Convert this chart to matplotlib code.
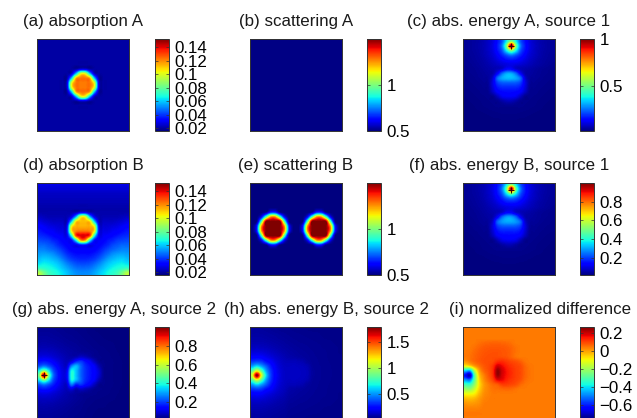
#!/usr/bin/env python
# -*- coding: utf-8 -*-

import numpy as np
import matplotlib
matplotlib.use('Agg')
import matplotlib.pyplot as plt
from matplotlib.cm import ScalarMappable
from matplotlib.colors import Normalize

plt.rcParams['font.family'] = ['Liberation Sans', 'DejaVu Sans']

titles = ['(a) absorption A', '(b) scattering A', '(c) abs. energy A, source 1',
          '(d) absorption B', '(e) scattering B', '(f) abs. energy B, source 1',
          '(g) abs. energy A, source 2', '(h) abs. energy B, source 2', '(i) normalized difference']

# colour limits and colorbar ticks of each panel
limits = [(0.0156, 0.152), (0.5, 1.5), (0.015, 1.0),
          (0.0156, 0.152), (0.5, 1.5), (0.015, 1.0),
          (0.015, 1.01), (0.02, 1.78), (-0.755, 0.263)]
tick_values = [[0.02, 0.04, 0.06, 0.08, 0.1, 0.12, 0.14], [0.5, 1], [0.5, 1],
               [0.02, 0.04, 0.06, 0.08, 0.1, 0.12, 0.14], [0.5, 1], [0.2, 0.4, 0.6, 0.8],
               [0.2, 0.4, 0.6, 0.8], [0.5, 1, 1.5], [-0.6, -0.4, -0.2, 0, 0.2]]

# source marks, grid column and row, per panel index
source_marks = {2: (10, 1), 5: (10, 1), 6: (1, 10)}

absorption_a = [
    [20]*20, [20]*20, [20]*20, [20]*20, [20]*20, [20]*20,
    [20]*9 + [26, 26] + [20]*9,
    [20]*7 + [24, 58, 98, 98, 58, 24] + [20]*7,
    [20]*7 + [58, 114, 122, 122, 114, 58] + [20]*7,
    [20]*6 + [26, 98, 122, 122, 122, 122, 98, 26] + [20]*6,
    [20]*6 + [26, 98, 122, 122, 122, 122, 98, 26] + [20]*6,
    [20]*7 + [58, 114, 122, 122, 114, 58] + [20]*7,
    [20]*7 + [24, 58, 98, 98, 58, 24] + [20]*7,
    [20]*9 + [26, 26] + [20]*9,
    [20]*20, [20]*20, [20]*20, [20]*20, [20]*20, [20]*20,
]

scattering_a = [[505, 505], [505, 505]]

absorption_b = [
    [28]*20, [26]*20, [24]*20, [23]*20, [22]*20, [21]*20,
    [21]*8 + [22, 28, 28, 22] + [21]*8,
    [24, 23, 22, 22, 22, 22, 22, 30, 58, 100, 100, 58, 30, 22, 22, 22, 22, 22, 23, 24],
    [28, 26, 25, 24, 24, 24, 24, 60, 108, 112, 112, 108, 60, 24, 24, 24, 24, 25, 26, 28],
    [32, 30, 28, 27, 26, 26, 30, 100, 114, 114, 114, 114, 100, 30, 26, 26, 27, 28, 30, 32],
    [35, 33, 31, 30, 28, 28, 32, 105, 120, 122, 122, 120, 105, 32, 28, 28, 30, 31, 33, 35],
    [38, 37, 35, 33, 31, 30, 30, 70, 132, 140, 140, 132, 70, 30, 30, 31, 33, 35, 37, 38],
    [42, 41, 40, 37, 35, 32, 30, 35, 70, 118, 118, 70, 35, 30, 32, 35, 37, 40, 41, 42],
    [46, 46, 44, 42, 38, 35, 32, 30, 30, 38, 38, 30, 30, 32, 35, 38, 42, 44, 46, 46],
    [50, 50, 48, 46, 43, 39, 35, 32, 31, 31, 31, 31, 32, 35, 39, 43, 46, 48, 50, 50],
    [54, 55, 54, 52, 48, 44, 39, 36, 34, 34, 34, 34, 36, 39, 44, 48, 52, 54, 55, 54],
    [58, 60, 59, 57, 54, 49, 44, 40, 38, 37, 37, 38, 40, 44, 49, 54, 57, 59, 60, 58],
    [63, 65, 64, 62, 59, 55, 50, 46, 43, 42, 42, 43, 46, 50, 55, 59, 62, 64, 65, 63],
    [72, 70, 68, 66, 63, 59, 55, 51, 48, 47, 47, 48, 51, 55, 59, 63, 66, 68, 70, 72],
    [92, 82, 74, 70, 67, 63, 59, 55, 52, 51, 51, 52, 55, 59, 63, 67, 70, 74, 82, 92],
]

scattering_b = [
    [500]*20, [500]*20, [500]*20, [500]*20, [500]*20, [500]*20,
    [500, 500, 500, 520, 650, 650, 520, 500, 500, 500, 500, 500, 500, 520, 650, 650, 520, 500, 500, 500],
    [500, 500, 620, 950, 1250, 1250, 950, 620, 500, 500, 500, 500, 620, 950, 1250, 1250, 950, 620, 500, 500],
    [500, 520, 950, 1500, 1500, 1500, 1500, 950, 520, 500, 500, 520, 950, 1500, 1500, 1500, 1500, 950, 520, 500],
    [500, 650, 1250, 1500, 1500, 1500, 1500, 1250, 650, 500, 500, 650, 1250, 1500, 1500, 1500, 1500, 1250, 650, 500],
    [500, 650, 1250, 1500, 1500, 1500, 1500, 1250, 650, 500, 500, 650, 1250, 1500, 1500, 1500, 1500, 1250, 650, 500],
    [500, 520, 950, 1500, 1500, 1500, 1500, 950, 520, 500, 500, 520, 950, 1500, 1500, 1500, 1500, 950, 520, 500],
    [500, 500, 620, 950, 1250, 1250, 950, 620, 500, 500, 500, 500, 620, 950, 1250, 1250, 950, 620, 500, 500],
    [500, 500, 500, 520, 650, 650, 520, 500, 500, 500, 500, 500, 500, 520, 650, 650, 520, 500, 500, 500],
    [500]*20, [500]*20, [500]*20, [500]*20, [500]*20, [500]*20,
]

energy_a_1 = [
    [37, 40, 44, 50, 60, 76, 100, 150, 220, 380, 520, 380, 220, 150, 100, 76, 60, 50, 44, 40],
    [36, 40, 45, 52, 62, 78, 105, 160, 260, 520, 1000, 520, 260, 160, 105, 78, 62, 52, 45, 40],
    [37, 40, 44, 50, 60, 76, 100, 150, 220, 380, 520, 380, 220, 150, 100, 76, 60, 50, 44, 40],
    [35, 38, 42, 48, 58, 72, 90, 125, 170, 220, 260, 220, 170, 125, 90, 72, 58, 48, 42, 38],
    [33, 36, 40, 45, 52, 64, 78, 100, 125, 150, 160, 150, 125, 100, 78, 64, 52, 45, 40, 36],
    [31, 33, 37, 42, 48, 56, 66, 78, 90, 100, 105, 100, 90, 78, 66, 56, 48, 42, 37, 33],
    [29, 31, 34, 38, 44, 50, 56, 65, 85, 130, 130, 85, 65, 56, 50, 44, 38, 34, 31, 29],
    [28, 30, 32, 36, 40, 46, 56, 130, 240, 300, 300, 240, 130, 56, 46, 40, 36, 32, 30, 28],
    [26, 28, 30, 34, 38, 42, 90, 240, 300, 320, 320, 300, 240, 90, 42, 38, 34, 30, 28, 26],
    [25, 26, 28, 30, 34, 40, 105, 195, 225, 230, 230, 225, 195, 105, 40, 34, 30, 28, 26, 25],
    [23, 24, 26, 28, 31, 36, 95, 155, 175, 175, 175, 175, 155, 95, 36, 31, 28, 26, 24, 23],
    [21, 22, 24, 26, 29, 32, 75, 125, 140, 145, 145, 140, 125, 75, 32, 29, 26, 24, 22, 21],
    [19, 20, 22, 24, 26, 28, 30, 70, 110, 120, 120, 110, 70, 30, 28, 26, 24, 22, 20, 19],
    [18, 19, 20, 22, 24, 26, 28, 30, 48, 65, 65, 48, 30, 28, 26, 24, 22, 20, 19, 18],
    [17, 18, 19, 21, 23, 24, 26, 28, 29, 30, 30, 29, 28, 26, 24, 23, 21, 19, 18, 17],
    [16, 17, 18, 19, 20, 22, 23, 24, 25, 26, 26, 25, 24, 23, 22, 20, 19, 18, 17, 16],
    [15, 15, 16, 17, 18, 19, 20, 21, 22, 22, 22, 22, 21, 20, 19, 18, 17, 16, 15, 15],
    [14, 14, 15, 15, 16, 17, 18, 18, 19, 19, 19, 19, 18, 18, 17, 16, 15, 15, 14, 14],
    [14, 14, 14, 15, 15, 16, 16, 17, 17, 17, 17, 17, 17, 16, 16, 15, 15, 14, 14, 14],
    [13, 13, 14, 14, 14, 15, 15, 15, 15, 15, 15, 15, 15, 15, 15, 14, 14, 14, 13, 13],
]

energy_b_1 = [
    [37, 40, 44, 50, 60, 76, 100, 150, 220, 370, 500, 370, 220, 150, 100, 76, 60, 50, 44, 40],
    [36, 40, 45, 52, 62, 78, 105, 160, 260, 500, 980, 500, 260, 160, 105, 78, 62, 52, 45, 40],
    [37, 40, 44, 50, 60, 76, 100, 150, 220, 370, 500, 370, 220, 150, 100, 76, 60, 50, 44, 40],
    [35, 38, 42, 48, 58, 72, 90, 125, 170, 220, 250, 220, 170, 125, 90, 72, 58, 48, 42, 38],
    [33, 36, 40, 45, 52, 64, 78, 100, 125, 150, 155, 150, 125, 100, 78, 64, 52, 45, 40, 36],
    [31, 33, 37, 42, 48, 56, 66, 78, 90, 100, 105, 100, 90, 78, 66, 56, 48, 42, 37, 33],
    [29, 31, 34, 38, 44, 50, 56, 65, 82, 125, 125, 82, 65, 56, 50, 44, 38, 34, 31, 29],
    [28, 30, 32, 36, 40, 46, 56, 125, 230, 285, 285, 230, 125, 56, 46, 40, 36, 32, 30, 28],
    [26, 28, 30, 34, 38, 42, 85, 230, 285, 305, 305, 285, 230, 85, 42, 38, 34, 30, 28, 26],
    [25, 26, 28, 30, 34, 40, 100, 190, 220, 225, 225, 220, 190, 100, 40, 34, 30, 28, 26, 25],
    [23, 24, 26, 28, 31, 36, 90, 150, 170, 170, 170, 170, 150, 90, 36, 31, 28, 26, 24, 23],
    [21, 22, 24, 26, 29, 32, 70, 120, 135, 140, 140, 135, 120, 70, 32, 29, 26, 24, 22, 21],
    [19, 20, 22, 24, 26, 28, 30, 65, 105, 115, 115, 105, 65, 30, 28, 26, 24, 22, 20, 19],
    [18, 19, 20, 22, 24, 26, 28, 30, 46, 60, 60, 46, 30, 28, 26, 24, 22, 20, 19, 18],
    [17, 18, 19, 21, 23, 24, 26, 28, 29, 30, 30, 29, 28, 26, 24, 23, 21, 19, 18, 17],
    [16, 17, 18, 19, 20, 22, 23, 24, 25, 26, 26, 25, 24, 23, 22, 20, 19, 18, 17, 16],
    [15, 15, 16, 17, 18, 19, 20, 21, 22, 22, 22, 22, 21, 20, 19, 18, 17, 16, 15, 15],
    [14, 14, 15, 15, 16, 17, 18, 18, 19, 19, 19, 19, 18, 18, 17, 16, 15, 15, 14, 14],
    [14, 14, 14, 15, 15, 16, 16, 17, 17, 17, 17, 17, 17, 16, 16, 15, 15, 14, 14, 14],
    [13, 13, 14, 14, 14, 15, 15, 15, 15, 15, 15, 15, 15, 15, 15, 14, 14, 14, 13, 13],
]

# these two are listed column by column, source sits on the left edge
energy_a_2_cols = [
    [37, 40, 44, 50, 60, 76, 100, 150, 220, 380, 520, 380, 220, 150, 100, 76, 60, 50, 44, 40],
    [36, 40, 45, 52, 62, 78, 105, 160, 260, 520, 1000, 520, 260, 160, 105, 78, 62, 52, 45, 40],
    [37, 40, 44, 50, 60, 76, 100, 150, 220, 380, 520, 380, 220, 150, 100, 76, 60, 50, 44, 40],
    [35, 38, 42, 48, 58, 72, 90, 125, 170, 220, 260, 220, 170, 125, 90, 72, 58, 48, 42, 38],
    [33, 36, 40, 45, 52, 64, 78, 100, 125, 150, 160, 150, 125, 100, 78, 64, 52, 45, 40, 36],
    [31, 33, 37, 42, 48, 56, 66, 78, 90, 100, 105, 100, 90, 78, 66, 56, 48, 42, 37, 33],
    [29, 31, 34, 38, 44, 50, 56, 65, 85, 120, 130, 120, 85, 65, 56, 50, 44, 38, 34, 31],
    [28, 30, 32, 36, 40, 46, 52, 100, 260, 380, 400, 380, 260, 100, 50, 44, 38, 34, 30, 28],
    [26, 28, 30, 34, 38, 42, 60, 170, 320, 330, 330, 320, 170, 60, 42, 38, 34, 30, 28, 26],
    [25, 26, 28, 30, 34, 40, 80, 190, 240, 240, 240, 240, 190, 80, 36, 34, 30, 28, 26, 25],
    [23, 24, 26, 28, 31, 36, 70, 150, 180, 185, 185, 180, 150, 65, 32, 28, 26, 24, 23, 22],
    [21, 22, 24, 26, 29, 34, 50, 120, 150, 155, 155, 150, 120, 48, 30, 26, 24, 22, 21, 20],
    [19, 20, 22, 24, 26, 30, 34, 70, 120, 130, 130, 120, 70, 32, 28, 24, 22, 20, 19, 18],
    [18, 19, 20, 22, 24, 26, 28, 32, 60, 85, 85, 60, 30, 28, 25, 23, 21, 19, 18, 17],
    [17, 18, 19, 21, 23, 24, 26, 27, 29, 30, 30, 29, 27, 26, 24, 22, 20, 19, 17, 16],
    [16, 17, 18, 20, 21, 23, 24, 25, 26, 26, 26, 26, 25, 24, 23, 21, 19, 18, 17, 16],
    [15, 16, 17, 19, 20, 21, 22, 23, 23, 23, 23, 23, 23, 22, 21, 20, 18, 17, 16, 15],
    [15, 15, 16, 17, 18, 19, 20, 21, 21, 21, 21, 21, 21, 20, 19, 18, 17, 16, 15, 15],
    [14, 15, 15, 16, 17, 18, 18, 19, 19, 19, 19, 19, 19, 18, 18, 17, 16, 15, 15, 14],
    [14, 14, 15, 15, 16, 16, 17, 17, 18, 18, 18, 18, 17, 17, 16, 16, 15, 15, 14, 14],
]

energy_b_2_cols = [
    [68, 75, 85, 100, 120, 160, 220, 330, 520, 820, 1100, 820, 520, 330, 220, 160, 120, 100, 85, 75],
    [68, 76, 86, 100, 125, 165, 230, 350, 620, 1100, 1780, 1100, 620, 350, 230, 165, 125, 100, 86, 76],
    [68, 75, 85, 100, 120, 160, 220, 330, 520, 820, 1100, 820, 520, 330, 220, 160, 120, 100, 85, 75],
    [65, 72, 80, 95, 115, 145, 190, 260, 400, 520, 620, 520, 400, 260, 190, 145, 115, 95, 80, 72],
    [60, 68, 76, 88, 105, 130, 165, 220, 280, 330, 350, 330, 280, 220, 165, 130, 105, 88, 76, 68],
    [56, 64, 72, 82, 95, 115, 140, 170, 200, 220, 230, 220, 200, 170, 140, 115, 95, 82, 72, 64],
    [52, 60, 66, 76, 86, 100, 120, 135, 150, 160, 165, 160, 150, 135, 120, 100, 86, 76, 66, 60],
    [50, 56, 62, 70, 78, 90, 102, 115, 125, 130, 132, 130, 125, 115, 102, 90, 78, 70, 62, 56],
    [48, 52, 58, 64, 72, 80, 90, 110, 122, 125, 125, 122, 110, 90, 80, 72, 64, 58, 52, 48],
    [46, 50, 54, 60, 66, 74, 84, 112, 125, 128, 128, 125, 112, 84, 74, 66, 60, 54, 50, 46],
    [44, 48, 52, 56, 62, 68, 76, 105, 120, 125, 125, 120, 105, 76, 68, 62, 56, 52, 48, 44],
    [42, 46, 50, 54, 58, 64, 70, 95, 115, 120, 120, 115, 95, 70, 64, 58, 54, 50, 46, 42],
    [40, 44, 48, 52, 56, 60, 64, 72, 100, 110, 110, 100, 72, 64, 60, 56, 52, 48, 44, 40],
    [40, 42, 46, 50, 52, 56, 58, 60, 64, 70, 70, 64, 60, 58, 56, 52, 50, 46, 42, 40],
    [38, 42, 44, 48, 50, 52, 54, 56, 56, 58, 58, 56, 56, 54, 52, 50, 48, 44, 42, 38],
    [38, 40, 42, 46, 48, 50, 52, 52, 54, 54, 54, 54, 52, 52, 50, 48, 46, 42, 40, 38],
    [36, 38, 40, 44, 46, 48, 48, 50, 50, 50, 50, 50, 50, 48, 48, 46, 44, 40, 38, 36],
    [36, 38, 40, 42, 44, 44, 46, 46, 48, 48, 48, 48, 46, 46, 44, 44, 42, 40, 38, 36],
    [36, 36, 38, 40, 42, 42, 44, 44, 44, 46, 46, 44, 44, 44, 42, 42, 40, 38, 36, 36],
    [34, 36, 36, 38, 40, 40, 42, 42, 42, 44, 44, 42, 42, 42, 40, 40, 38, 36, 36, 34],
]

difference = [
    [40]*20, [40]*20, [40]*20,
    [40, 40, 40, 50, 58, 62, 65, 65, 62, 58, 50] + [40]*9,
    [40, 40, 50, 62, 72, 76, 78, 78, 76, 72, 62, 48] + [40]*8,
    [40, 45, 58, 70, 78, 82, 84, 84, 80, 76, 64, 48] + [40]*8,
    [40, 48, 62, 74, 82, 86, 88, 88, 85, 80, 64, 48] + [40]*8,
    [10, 35, 58, 74, 84, 88, 92, 120, 125, 110, 95, 85, 70, 48] + [40]*6,
    [-100, -70, 0, 45, 75, 90, 115, 190, 165, 135, 115, 100, 90, 62, 45] + [40]*5,
    [-420, -450, -180, -10, 60, 85, 125, 245, 190, 150, 125, 105, 92, 65, 48] + [40]*5,
    [-620, -700, -300, -50, 30, 75, 120, 240, 185, 150, 125, 105, 92, 65, 48] + [40]*5,
    [-480, -500, -280, -70, 15, 60, 100, 170, 165, 135, 115, 100, 85, 58, 45] + [40]*5,
    [-320, -330, -220, -80, 0, 35, 60, 75, 105, 105, 95, 85, 60, 45] + [40]*6,
    [-210, -220, -150, -60, 5, 30, 48, 52, 58, 62, 58, 48] + [40]*8,
    [-110, -110, -90, -30, 15, 30] + [40]*14,
    [-35, -40, -30, 0, 25, 35] + [40]*14,
    [5, 0, 5, 15, 35, 38] + [40]*14,
    [25, 25, 25, 30, 38] + [40]*15,
    [40]*20, [40]*20,
]

panels = [absorption_a, scattering_a, energy_a_1,
          absorption_b, scattering_b, energy_b_1,
          np.array(energy_a_2_cols).T, np.array(energy_b_2_cols).T, difference]

W, H = 637, 418
col_left = [37, 250, 463]
cbar_left = [154.5, 367, 580]
row_top = [39, 183, 327]
title_base = [26, 170, 314]
title_shift = [0, 0, 31]
box = 92
cbar_w = 14


def place(fig, left, top, width, height):
    return fig.add_axes([left/W, 1-(top+height)/H, width/W, height/H])


def main():
    fig = plt.figure(figsize=(W/100, H/100), dpi=100)

    for i, grid in enumerate(panels):
        r, c = divmod(i, 3)
        vmin, vmax = limits[i]
        ax = place(fig, col_left[c], row_top[r], box, box)
        ax.imshow(np.array(grid)/1000.0, cmap='jet', vmin=vmin, vmax=vmax,
                  aspect='auto', interpolation='catrom')
        if i in source_marks:
            ax.plot(*source_marks[i], '+', color='#3a0000', ms=4, mew=0.7)
        ax.set_xticks([])
        ax.set_yticks([])
        for s in ax.spines.values():
            s.set_linewidth(0.7)
            s.set_color('#333333')

        cax = place(fig, cbar_left[c], row_top[r], cbar_w, box)
        cb = fig.colorbar(ScalarMappable(Normalize(vmin, vmax), 'jet'), cax=cax,
                          ticks=tick_values[i])
        cb.ax.set_yticklabels(['%g' % t if t >= 0 else '\u2212%g' % -t for t in tick_values[i]])
        cb.ax.tick_params(direction='in', length=2, width=0.5, left=True, right=True,
                          labelsize=12.2, pad=4, color='#333333')
        cb.outline.set_linewidth(0.7)
        cb.outline.set_edgecolor('#333333')

        fig.text((col_left[c]+box/2+title_shift[r])/W, 1-title_base[r]/H, titles[i],
                 ha='center', va='baseline', fontsize=12.2, color='#1a1a1a')

    fig.savefig('out.png', dpi=100)


if __name__ == "__main__":

    main()
